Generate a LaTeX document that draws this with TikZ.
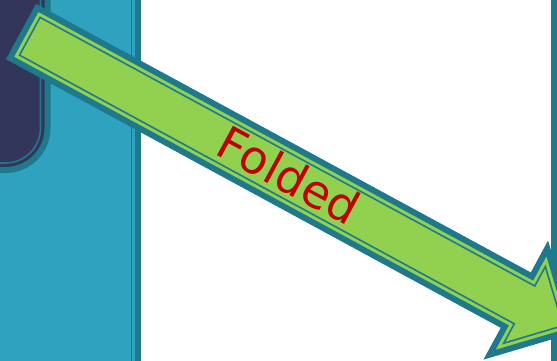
\documentclass[tikz,border=0pt]{standalone}
\usepackage{fontspec}
\usepackage{tikz}
\newfontfamily\labelfont{DejaVu Sans}
\definecolor{bandblue}{HTML}{2EA2BE}
\definecolor{rimteal}{HTML}{1F798C}
\definecolor{boxnavy}{HTML}{33365B}
\definecolor{arrowgreen}{HTML}{92D050}
\definecolor{textred}{HTML}{C00000}
\tikzset{
    rimline/.style={draw=rimteal, line width=6pt, line join=miter},
    thinline/.style={draw=rimteal, line width=1.6pt, line join=miter},
    foldtext/.style={font=\labelfont\fontsize{46}{46}\selectfont, text=textred, inner sep=0pt}
}
\begin{document}
\begin{tikzpicture}[x=1pt, y=-1pt]
    \useasboundingbox (0,0) rectangle (557,361);
    \clip (0,0) rectangle (557,361);
    % left band
    \path[rimline, fill=bandblue] (-100,-100) rectangle (138.3,461);
    \path[thinline] (-100,-100) rectangle (131.3,461);
    % dark box
    \path[rimline, fill=boxnavy, rounded corners=42pt] (-100,-100) rectangle (47.5,170);
    \path[thinline, rounded corners=35pt] (-100,-100) rectangle (40.5,163);
    % right band
    \path[rimline, fill=bandblue] (553.5,-100) rectangle (700,461);
    % folded arrow
    \begin{scope}[shift={(21,31.5)}, rotate=-28.5]
        \path[rimline, fill=arrowgreen] (3,-28.5) -- (566,-28.5) -- (566,-60.5) -- (626.5,0)
            -- (566,60.5) -- (566,28.5) -- (3,28.5) -- cycle;
        \path[thinline] (10,-21.5) -- (573,-21.5) -- (573,-43.6) -- (616.6,0)
            -- (573,43.6) -- (573,21.5) -- (10,21.5) -- cycle;
        \node[foldtext, rotate=-28.5] (folded) at (304,-1.5) {Folded};
    \end{scope}
\end{tikzpicture}
\end{document}
